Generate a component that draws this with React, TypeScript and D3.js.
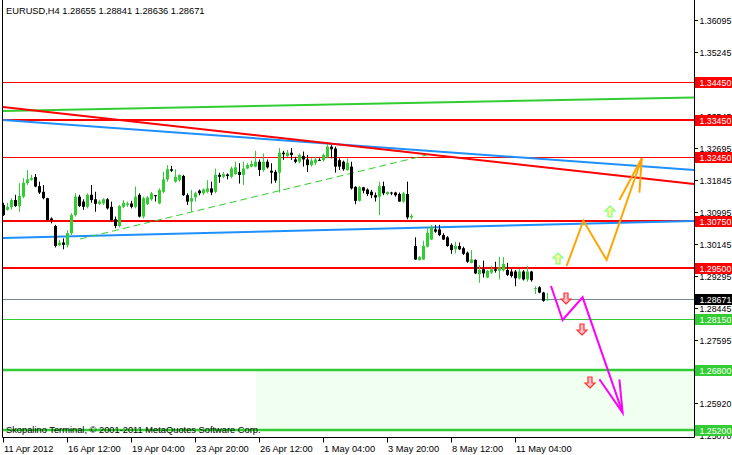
import React from 'react';
import * as d3 from 'd3';

// ---- Data ----
const opens = [1.3118,1.3105,1.3112,1.3131,1.3115,1.3140,1.3176,1.3184,1.3192,1.3168,1.3153,1.3136,1.3082,1.3062,1.3011,1.3018,1.3011,1.3043,1.3091,1.3140,1.3127,1.3113,1.3145,1.3133,1.3121,1.3122,1.3133,1.3113,1.3080,1.3062,1.3113,1.3118,1.3122,1.3113,1.3145,1.3087,1.3120,1.3133,1.3144,1.3122,1.3153,1.3186,1.3213,1.3180,1.3184,1.3195,1.3144,1.3127,1.3138,1.3156,1.3149,1.3153,1.3162,1.3153,1.3198,1.3193,1.3199,1.3193,1.3200,1.3206,1.3198,1.3215,1.3220,1.3220,1.3233,1.3211,1.3233,1.3209,1.3206,1.3204,1.3257,1.3248,1.3257,1.3239,1.3233,1.3248,1.3239,1.3224,1.3230,1.3238,1.3237,1.3246,1.3273,1.3268,1.3237,1.3233,1.3211,1.3220,1.3166,1.3129,1.3165,1.3159,1.3153,1.3144,1.3140,1.3168,1.3147,1.3151,1.3151,1.3147,1.3127,1.3147,1.3085,1.3009,1.2972,1.2973,1.3007,1.3026,1.3053,1.3053,1.3038,1.3032,1.3012,1.3000,1.3009,1.3003,1.2991,1.2964,1.2972,1.2934,1.2947,1.2925,1.2938,1.2947,1.2943,1.2945,1.2945,1.2941,1.2941,1.2923,1.2941,1.2920,1.2941,1.2896,1.2899,1.2885,1.28655];
const highs = [1.3124,1.3124,1.3136,1.3145,1.3176,1.3189,1.3211,1.3198,1.3200,1.3180,1.3171,1.3137,1.3085,1.3065,1.3025,1.3029,1.3051,1.3096,1.3149,1.3145,1.3133,1.3149,1.3171,1.3153,1.3131,1.3136,1.3136,1.3127,1.3087,1.3118,1.3131,1.3127,1.3129,1.3167,1.3149,1.3140,1.3142,1.3153,1.3144,1.3162,1.3206,1.3224,1.3222,1.3213,1.3199,1.3198,1.3149,1.3158,1.3153,1.3159,1.3162,1.3184,1.3180,1.3215,1.3204,1.3206,1.3202,1.3220,1.3233,1.3229,1.3233,1.3229,1.3236,1.3262,1.3239,1.3255,1.3239,1.3229,1.3211,1.3269,1.3262,1.3264,1.3269,1.3246,1.3255,1.3260,1.3251,1.3242,1.3246,1.3242,1.3255,1.3280,1.3277,1.3273,1.3242,1.3236,1.3242,1.3233,1.3168,1.3168,1.3166,1.3162,1.3158,1.3151,1.3180,1.3180,1.3153,1.3153,1.3153,1.3151,1.3153,1.3180,1.3094,1.3032,1.2982,1.3023,1.3056,1.3065,1.3065,1.3065,1.3043,1.3035,1.3016,1.3020,1.3018,1.3007,1.2994,1.2998,1.2973,1.2958,1.2970,1.2945,1.2956,1.2967,1.2980,1.2979,1.2964,1.2947,1.2945,1.2947,1.2945,1.2956,1.2943,1.2902,1.2902,1.2887,1.28841];
const lows = [1.3089,1.3103,1.3106,1.3113,1.3100,1.3136,1.3171,1.3183,1.3165,1.3147,1.3133,1.3076,1.3069,1.3005,1.3009,1.3000,1.3005,1.3038,1.3087,1.3113,1.3105,1.3109,1.3124,1.3100,1.3118,1.3118,1.3106,1.3074,1.3056,1.3058,1.3109,1.3113,1.3109,1.3109,1.3085,1.3082,1.3118,1.3129,1.3127,1.3120,1.3149,1.3180,1.3206,1.3177,1.3180,1.3142,1.3118,1.3100,1.3127,1.3144,1.3144,1.3149,1.3144,1.3149,1.3177,1.3189,1.3186,1.3189,1.3198,1.3175,1.3171,1.3213,1.3218,1.3218,1.3195,1.3206,1.3215,1.3175,1.3177,1.3151,1.3238,1.3245,1.3238,1.3229,1.3229,1.3220,1.3206,1.3220,1.3224,1.3236,1.3233,1.3242,1.3242,1.3204,1.3211,1.3209,1.3209,1.3159,1.3120,1.3127,1.3149,1.3142,1.3136,1.3127,1.3091,1.3144,1.3144,1.3144,1.3140,1.3127,1.3124,1.3080,1.3080,1.2972,1.2970,1.2972,1.3005,1.3025,1.3044,1.3035,1.3025,1.3007,1.2988,1.2989,1.2998,1.2985,1.2964,1.2963,1.2934,1.2911,1.2925,1.2923,1.2934,1.2938,1.2920,1.2941,1.2929,1.2925,1.2902,1.2920,1.2917,1.2914,1.2914,1.2881,1.2883,1.2861,1.28636];
const closes = [1.3091,1.3113,1.3131,1.3115,1.3142,1.3177,1.3186,1.3189,1.3167,1.3151,1.3136,1.3078,1.3078,1.3009,1.3018,1.3012,1.3043,1.3091,1.3140,1.3115,1.3113,1.3145,1.3131,1.3121,1.3127,1.3133,1.3109,1.3078,1.3062,1.3115,1.3124,1.3122,1.3113,1.3140,1.3087,1.3136,1.3138,1.3149,1.3142,1.3158,1.3186,1.3213,1.3209,1.3193,1.3198,1.3144,1.3127,1.3136,1.3149,1.3149,1.3159,1.3162,1.3151,1.3198,1.3193,1.3200,1.3195,1.3215,1.3218,1.3198,1.3215,1.3224,1.3227,1.3233,1.3211,1.3233,1.3218,1.3204,1.3183,1.3257,1.3253,1.3257,1.3251,1.3233,1.3251,1.3239,1.3224,1.3236,1.3239,1.3237,1.3251,1.3273,1.3266,1.3220,1.3220,1.3213,1.3230,1.3162,1.3129,1.3165,1.3156,1.3147,1.3144,1.3138,1.3168,1.3149,1.3153,1.3150,1.3144,1.3127,1.3149,1.3085,1.3089,1.2973,1.2979,1.3009,1.3044,1.3060,1.3047,1.3038,1.3026,1.3009,1.2998,1.3009,1.3000,1.2988,1.2967,1.2973,1.2936,1.2945,1.2936,1.2943,1.2947,1.2943,1.2952,1.2961,1.2932,1.2929,1.2923,1.2941,1.2920,1.2941,1.2918,1.2897,1.2885,1.2863,1.28671];

const timeLabels = ["11 Apr 2012","16 Apr 12:00","19 Apr 04:00","23 Apr 20:00","26 Apr 12:00","1 May 04:00","3 May 20:00","8 May 12:00","11 May 04:00"];
const timeLabelBars = [0,16,32,48,64,80,96,112,128];

const priceTicks = [1.36095,1.35245,1.33545,1.32695,1.31845,1.30995,1.30145,1.29295,1.28445,1.27595,1.25920,1.25070];
const priceTickLabels = ["1.36095","1.35245","1.33545","1.32695","1.31845","1.30995","1.30145","1.29295","1.28445","1.27595","1.25920","1.25070"];

const redLevels = [1.3445,1.3345,1.3245,1.3075,1.2950];
const redLevelLabels = ["1.34450","1.33450","1.32450","1.30750","1.29500"];
const greenLevels = [1.2815,1.2680,1.2520];
const greenLevelLabels = ["1.28150","1.26800","1.25200"];
const currentPrice = 1.28671;
const currentPriceLabel = "1.28671";

// zone (bar index start, price top, price bottom)
const zoneStartBar = 63.25;
const zonePrices = [1.2680, 1.2520];

// trend lines: [barIndex, price] pairs
const redTrend = [[0,1.33785],[172.75,1.31737]];
const blueUpperTrend = [[0,1.33439],[172.75,1.32109]];
const blueLowerTrend = [[0,1.30301],[172.75,1.30753]];
const greenUpperTrend = [[0,1.33679],[172.75,1.34039]];
const greenDashedTrend = [[19.25,1.30274],[106,1.32509]];

const orangePath = [[140.9,1.29556],[145.1,1.30761],[150.9,1.29716],[159.7,1.32421]];
const orangeHead = [[154.1,1.31312],[159.7,1.32421],[159.1,1.31506]];
const magentaPath = [[137,1.29024],[139.9,1.28120],[144.9,1.28724],[154.9,1.25655]];
const magentaHead = [[149.1,1.26543],[154.9,1.25655],[154.1,1.26543]];

const upArrows = [[138.75,1.29743],[151.75,1.30993]];
const downArrows = [[140.75,1.28705],[144.75,1.27881],[146.75,1.26471]];

const title = "EURUSD,H4  1.28655 1.28841 1.28636 1.28671";
const watermark = "Skopalino Terminal, \u00a9 2001-2011 MetaQuotes Software Corp.";

// ---- Layout ----
const W = 732, H = 455;
const plotLeft = 2.5, plotRight = 694.5, plotBottom = 437.5;
const FONT = "'Liberation Sans', Arial, sans-serif";
const FS = 9.3;
const AXFS = 8.8;

const x = d3.scaleLinear().domain([0, 172.75]).range([3, 694]);
const y = d3.scaleLinear().domain([1.3445, 1.2520]).range([82, 429.8]);

const RED = '#ff0000', GREEN = '#32cd32', BLUE = '#1e90ff', BULL = '#32cd32';

export default function App() {
  const line = d3.line<number[]>().x(d => x(d[0])).y(d => y(d[1]));
  const upPath = (cx: number, cy: number) =>
    `M${cx},${cy-6} L${cx+5},${cy-1} L${cx+2},${cy-1} L${cx+2},${cy+5} L${cx-2},${cy+5} L${cx-2},${cy-1} L${cx-5},${cy-1} Z`;
  const downPath = (cx: number, cy: number) =>
    `M${cx},${cy+6} L${cx+5},${cy+1} L${cx+2},${cy+1} L${cx+2},${cy-5} L${cx-2},${cy-5} L${cx-2},${cy+1} L${cx-5},${cy+1} Z`;

  const levelBox = (p: number, label: string, color: string, key: string) => (
    <g key={key}>
      <rect x={695} y={Math.round(y(p)) - 5} width={40} height={11} fill={color} />
      <text x={699.5} y={Math.round(y(p)) + 0.5} dy="0.35em" fill="#fff" fontSize={AXFS} fontFamily={FONT}>{label}</text>
    </g>
  );

  return (
    <svg width={W} height={H} style={{ position: 'absolute', left: 0, top: 0, background: '#fff' }}>
      <defs>
        <clipPath id="plot"><rect x={plotLeft} y={0} width={plotRight - plotLeft} height={plotBottom} /></clipPath>
      </defs>
      <rect x={0} y={0} width={W} height={H} fill="#fff" />
      <g clipPath="url(#plot)">
        {/* zone */}
        <rect x={x(zoneStartBar)} y={y(zonePrices[0])} width={plotRight - x(zoneStartBar)} height={y(zonePrices[1]) - y(zonePrices[0])} fill="#f0fff0" />
        {/* horizontal levels */}
        {redLevels.map((p, i) => (
          <line key={'r'+i} x1={plotLeft} x2={plotRight} y1={Math.round(y(p)) + ([1,3,4].includes(i) ? 0 : 0.5)} y2={Math.round(y(p)) + ([1,3,4].includes(i) ? 0 : 0.5)} stroke={RED} strokeWidth={[1,3,4].includes(i) ? 2 : 1} />
        ))}
        {greenLevels.map((p, i) => (
          <line key={'g'+i} x1={plotLeft} x2={plotRight} y1={Math.round(y(p)) + (i === 0 ? 0.5 : 0)} y2={Math.round(y(p)) + (i === 0 ? 0.5 : 0)} stroke={GREEN} strokeWidth={i === 0 ? 1 : 2.5} />
        ))}
        <line x1={plotLeft} x2={plotRight} y1={Math.round(y(currentPrice)) + 0.5} y2={Math.round(y(currentPrice)) + 0.5} stroke="#778899" strokeWidth={1} />
        {/* trend lines */}
        <path d={line(greenUpperTrend as any) || ''} stroke={GREEN} strokeWidth={2} fill="none" />
        <path d={line(blueUpperTrend as any) || ''} stroke={BLUE} strokeWidth={2} fill="none" />
        <path d={line(redTrend as any) || ''} stroke={RED} strokeWidth={2} fill="none" />
        <path d={line(blueLowerTrend as any) || ''} stroke={BLUE} strokeWidth={2} fill="none" />
        <path d={line(greenDashedTrend as any) || ''} stroke={GREEN} strokeWidth={1} strokeDasharray="7,4" fill="none" />
        {/* candles */}
        {opens.map((o, i) => {
          const c = closes[i];
          const cx = Math.round(x(i));
          const bull = c >= o;
          const col = bull ? BULL : '#000';
          const yt = Math.min(y(o), y(c));
          const yb = Math.max(y(o), y(c));
          return (
            <g key={'c'+i}>
              <rect x={cx} y={y(highs[i])} width={1} height={Math.max(1, y(lows[i]) - y(highs[i]))} fill={col} />
              <rect x={cx - 1} y={yt} width={3} height={Math.max(1, yb - yt)} fill={col} />
            </g>
          );
        })}
        {/* projections */}
        <path d={line(orangePath as any) || ''} stroke="#ffa500" strokeWidth={2} fill="none" strokeLinejoin="miter" />
        <path d={line(orangeHead as any) || ''} stroke="#ffa500" strokeWidth={2} fill="none" />
        <path d={line(magentaPath as any) || ''} stroke="#ff00ff" strokeWidth={2} fill="none" />
        <path d={line(magentaHead as any) || ''} stroke="#ff00ff" strokeWidth={2} fill="none" />
        {upArrows.map((d, i) => (
          <path key={'u'+i} d={upPath(x(d[0]), y(d[1]))} fill="#ffff99" stroke="#7fff7f" strokeWidth={1.2} />
        ))}
        {downArrows.map((d, i) => (
          <path key={'d'+i} d={downPath(x(d[0]), y(d[1]))} fill="#ffc0cb" stroke="#ff3030" strokeWidth={1.2} />
        ))}
        <text x={6} y={433} fontSize={FS} fontFamily={FONT} fill="#000">{watermark}</text>
      </g>
      {/* frame */}
      <line x1={plotLeft} x2={plotLeft} y1={0} y2={plotBottom} stroke="#000" />
      <line x1={plotRight} x2={plotRight} y1={0} y2={plotBottom} stroke="#000" />
      <line x1={plotLeft} x2={plotRight} y1={plotBottom} y2={plotBottom} stroke="#000" />
      {/* title */}
      <text x={6} y={14} fontSize={FS} fontFamily={FONT} fill="#000">{title}</text>
      {/* price axis */}
      {priceTicks.map((p, i) => (
        <g key={'pt'+i}>
          <line x1={694} x2={698} y1={Math.round(y(p)) + 0.5} y2={Math.round(y(p)) + 0.5} stroke="#000" />
          <text x={699.5} y={Math.round(y(p)) + 0.5} dy="0.35em" fontSize={AXFS} fontFamily={FONT} fill="#000">{priceTickLabels[i]}</text>
        </g>
      ))}
      {redLevels.map((p, i) => levelBox(p, redLevelLabels[i], RED, 'rb'+i))}
      {greenLevels.map((p, i) => levelBox(p, greenLevelLabels[i], GREEN, 'gb'+i))}
      {levelBox(currentPrice, currentPriceLabel, '#000', 'cur')}
      {/* time axis */}
      {timeLabelBars.map((b, i) => (
        <g key={'tl'+i}>
          <line x1={Math.round(x(b)) + 0.5} x2={Math.round(x(b)) + 0.5} y1={plotBottom} y2={plotBottom + 5} stroke="#000" />
          <text x={Math.round(x(b)) + 1} y={452} fontSize={FS} fontFamily={FONT} fill="#000">{timeLabels[i]}</text>
        </g>
      ))}
    </svg>
  );
}
